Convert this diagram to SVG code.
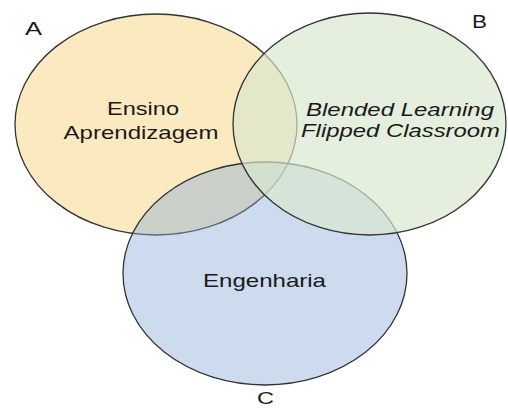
<svg xmlns="http://www.w3.org/2000/svg" width="508" height="409" viewBox="0 0 508 409">
<style>
.set{stroke:#333;stroke-width:1.3}
.lbl{font-family:"Liberation Sans",Arial,sans-serif;fill:#1a1a1a;text-anchor:middle}
.it{font-style:italic}
</style>
<rect width="508" height="409" fill="#ffffff"/>
<g id="setA">
<ellipse class="set" cx="156" cy="124.5" rx="141" ry="110.5" fill="#FBEAC0"/>
</g>
<g id="setC">
<ellipse class="set" cx="265" cy="273.5" rx="142" ry="111.5" fill="rgb(136,171,215)" fill-opacity="0.43"/>
</g>
<g id="setB">
<ellipse class="set" cx="369.5" cy="124" rx="136.5" ry="111" fill="rgb(217,231,205)" fill-opacity="0.68"/>
</g>
<g id="labelA"><text class="lbl" x="33.5" y="35" font-size="18" textLength="17" lengthAdjust="spacingAndGlyphs">A</text></g>
<g id="labelB"><text class="lbl" x="479.5" y="28" font-size="18" textLength="15" lengthAdjust="spacingAndGlyphs">B</text></g>
<g id="labelC"><text class="lbl" x="265.5" y="404" font-size="16" textLength="17" lengthAdjust="spacingAndGlyphs">C</text></g>
<g id="textA">
<text class="lbl" x="143" y="115" font-size="18.5" textLength="72" lengthAdjust="spacingAndGlyphs">Ensino</text>
<text class="lbl" x="141" y="139" font-size="18.5" textLength="155" lengthAdjust="spacingAndGlyphs">Aprendizagem</text>
</g>
<g id="textB">
<text class="lbl it" x="400" y="116" font-size="19" textLength="188" lengthAdjust="spacingAndGlyphs">Blended Learning</text>
<text class="lbl it" x="400.5" y="137" font-size="19" textLength="199" lengthAdjust="spacingAndGlyphs">Flipped Classroom</text>
</g>
<g id="textC">
<text class="lbl" x="264.5" y="287" font-size="19" textLength="123" lengthAdjust="spacingAndGlyphs">Engenharia</text>
</g>
<g id="connectors"></g>
</svg>
